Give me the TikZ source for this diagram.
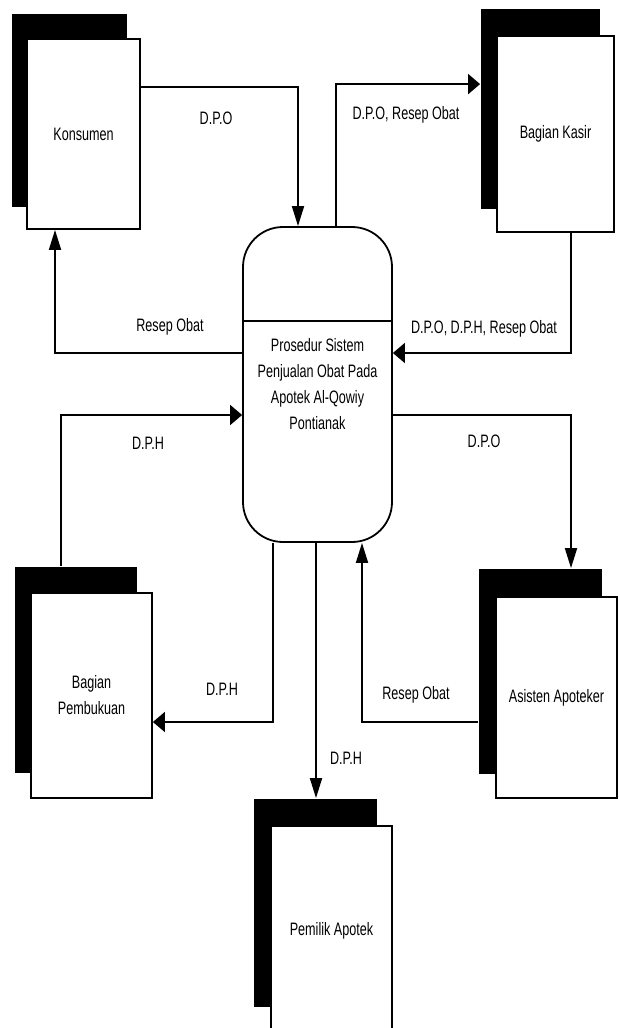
\documentclass[tikz,border=0pt]{standalone}
\usepackage{fontspec}
\setmainfont{Liberation Sans}[FakeStretch=0.7]
\usetikzlibrary{positioning,arrows.meta}

\begin{document}
\begin{tikzpicture}[
  x=1pt, y=-1pt,
  font=\fontsize{18pt}{26pt}\selectfont,
  line width=1.8pt,
  shadow/.style={fill=black, inner sep=0pt},
  entity/.style={draw, fill=white, align=center, inner sep=0pt},
  proc/.style={draw, fill=white, rounded corners=40pt, align=center, minimum width=149pt, minimum height=315pt},
  varr/.style={-{Triangle[length=20pt,width=12pt]}},
  harr/.style={-{Triangle[length=12pt,width=20pt]}},
  lbl/.style={inner sep=0pt}
]
\useasboundingbox (0,0) rectangle (619,1028);

% external entities (shadow first, then the box)
\node[shadow, minimum width=115pt, minimum height=193pt] (konsumenbg) at (69.5,110.5) {};
\node[entity, minimum width=113pt, minimum height=190pt] (konsumen) at (83.5,134) {Konsumen};
\node[shadow, minimum width=119pt, minimum height=200pt] (kasirbg) at (540.5,109) {};
\node[entity, minimum width=117pt, minimum height=196pt] (kasir) at (555.5,134) {Bagian Kasir};
\node[shadow, minimum width=122pt, minimum height=206pt] (pembukuanbg) at (76,670) {};
\node[entity, minimum width=121pt, minimum height=205pt] (pembukuan) at (91.5,695.5) {Bagian\\Pembukuan};
\node[shadow, minimum width=123pt, minimum height=205pt] (asistenbg) at (540.5,671.5) {};
\node[entity, minimum width=121pt, minimum height=201pt] (asisten) at (556.5,697.5) {Asisten Apoteker};
\node[shadow, minimum width=123pt, minimum height=208pt] (pemilikbg) at (315.5,903) {};
\node[entity, minimum width=121pt, minimum height=209pt] (pemilik) at (331.5,930.5) {Pemilik Apotek};

% process
\node[proc] (proses) at (317.5,384.5) {Prosedur Sistem\\Penjualan Obat Pada\\Apotek Al-Qowiy\\Pontianak};
\draw ([yshift=63.5pt]proses.west) -- ([yshift=63.5pt]proses.east);

% flows
\draw[varr] ([yshift=-49pt]konsumen.north east) -| ([xshift=-19.5pt]proses.north);
\draw[harr] ([xshift=18.5pt]proses.north) |- ([yshift=-76pt]kasirbg.north west);
\draw[harr] ([xshift=15.5pt]kasir.south) |- ([yshift=31.5pt]proses.east);
\draw[varr] ([yshift=31.5pt]proses.west) -| ([xshift=-28.5pt]konsumen.south);
\draw[harr] ([xshift=-15pt]pembukuanbg.north) |- ([yshift=-30.5pt]proses.west);
\draw[varr] ([yshift=-30.5pt]proses.east) -| ([xshift=30.5pt]asistenbg.north);
\draw[harr] ([xshift=-44.5pt]proses.south) |- ([yshift=-26.5pt]pembukuan.east);
\draw[varr] ([xshift=-1.5pt]proses.south) -- ([xshift=-1.5pt]proses.south |- pemilikbg.north);
\draw[varr] ([yshift=-50.5pt]asistenbg.west) -| ([xshift=44.5pt]proses.south);

% labels
\node[lbl] (l1) at (216,118) {D.P.O};
\node[lbl] (l2) at (406,115) {D.P.O, Resep Obat};
\node[lbl] (l3) at (170,327) {Resep Obat};
\node[lbl] (l4) at (484,329) {D.P.O, D.P.H, Resep Obat};
\node[lbl] (l5) at (148,443) {D.P.H};
\node[lbl] (l6) at (484,441) {D.P.O};
\node[lbl] (l7) at (222,689) {D.P.H};
\node[lbl] (l8) at (416,695) {Resep Obat};
\node[lbl] (l9) at (346,758) {D.P.H};
\end{tikzpicture}
\end{document}
